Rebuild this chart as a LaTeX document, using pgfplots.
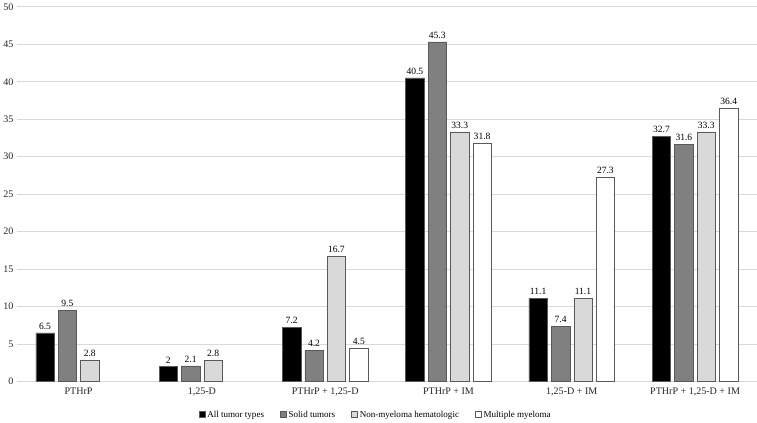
\documentclass[border=0pt]{standalone}
\usepackage{pgfplots}
\pgfplotsset{compat=1.18}
\usepackage{fontspec}
\setmainfont{Liberation Serif}

\definecolor{solidgray}{HTML}{808080}
\definecolor{lightgray}{HTML}{D9D9D9}
\definecolor{gridgray}{HTML}{D9D9D9}
\definecolor{edgegray}{HTML}{595959}

\begin{document}
\begin{tikzpicture}
\begin{axis}[
    scale only axis,
    width=736pt, height=373pt,
    xmin=-0.5, xmax=5.5,
    ymin=0, ymax=50,
    ybar=4pt, bar width=18.3pt,
    every axis plot post/.append style={
        draw=edgegray, line width=0.5pt,
        legend image code/.code={\draw[##1] (0pt,-3pt) rectangle (6pt,3pt);}
    },
    xtick={0,...,5},
    xticklabels={PTHrP, {1,25-D}, {PTHrP + 1,25-D}, {PTHrP + IM}, {1,25-D + IM}, {PTHrP + 1,25-D + IM}},
    ytick={0,5,...,50},
    ymajorgrids, grid style={gridgray, line width=0.6pt},
    axis line style={draw=none},
    major tick length=0pt,
    tick label style={font=\fontsize{10}{12}\selectfont, black!85},
    xticklabel style={yshift=-3pt},
    /pgf/number format/assume math mode=true,
    nodes near coords,
    every node near coord/.append style={font=\fontsize{9.5}{11}\selectfont, black, /pgf/number format/assume math mode=true},
    legend style={at={(0.485,-0.088)}, anchor=center, legend columns=4, draw=none,
        font=\fontsize{9}{11}\selectfont,
        /tikz/every even column/.append style={column sep=14pt}},
]
\addplot[fill=black] coordinates {(0,6.5) (1,2) (2,7.2) (3,40.5) (4,11.1) (5,32.7)};
\addlegendentry{All tumor types}
\addplot[fill=solidgray] coordinates {(0,9.5) (1,2.1) (2,4.2) (3,45.3) (4,7.4) (5,31.6)};
\addlegendentry{Solid tumors}
\addplot[fill=lightgray] coordinates {(0,2.8) (1,2.8) (2,16.7) (3,33.3) (4,11.1) (5,33.3)};
\addlegendentry{Non-myeloma hematologic}
\addplot[fill=white] coordinates {(2,4.5) (3,31.8) (4,27.3) (5,36.4)};
\addlegendentry{Multiple myeloma}
\end{axis}
\end{tikzpicture}
\end{document}
